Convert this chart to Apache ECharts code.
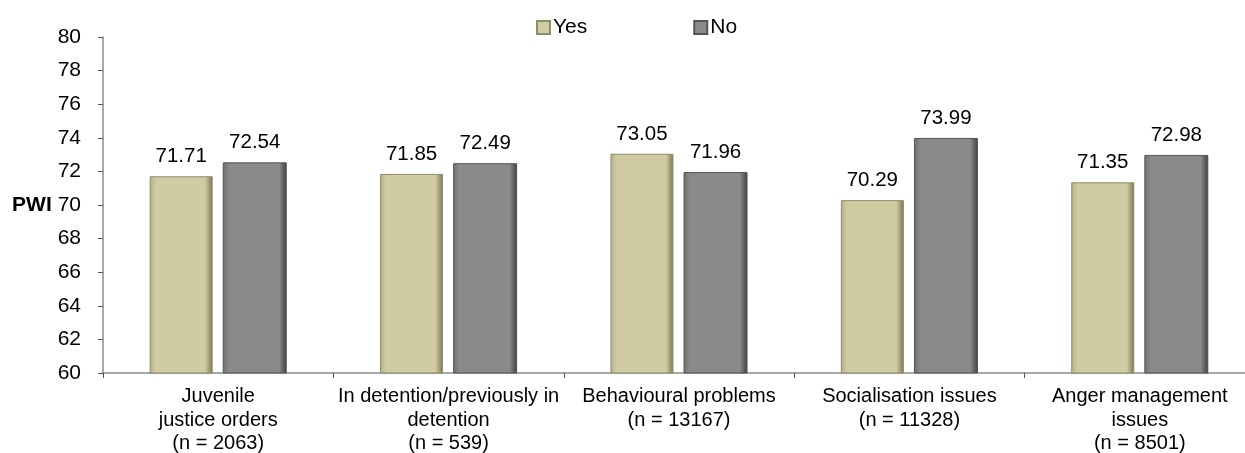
<!DOCTYPE html>
<html><head><meta charset="utf-8">
<script src="https://cdn.jsdelivr.net/npm/echarts@6/dist/echarts.min.js"></script>
<style>html,body{margin:0;padding:0;background:#fff}#c{width:1245px;height:453px}</style>
</head><body><div id="c"></div>
<script>
const categories = [
  'Juvenile\njustice orders\n(n = 2063)',
  'In detention/previously in\ndetention\n(n = 539)',
  'Behavioural problems\n(n = 13167)',
  'Socialisation issues\n(n = 11328)',
  'Anger management\nissues\n(n = 8501)'
];
const yesValues = [71.71, 71.85, 73.05, 70.29, 71.35];
const noValues = [72.54, 72.49, 71.96, 73.99, 72.98];
const seriesNames = ['Yes', 'No'];

const font = 'Liberation Sans, Arial, sans-serif';
function grad(edgeL, mid, edgeR) {
  return new echarts.graphic.LinearGradient(0, 0, 1, 0, [
    {offset: 0, color: edgeL}, {offset: 0.1, color: mid},
    {offset: 0.88, color: mid}, {offset: 1, color: edgeR}
  ]);
}
const yesColor = grad('#b4af88', '#d0cba3', '#7a7552');
const noColor = grad('#6f6f6f', '#8a8a8a', '#3e3e3e');

const chart = echarts.init(document.getElementById('c'));
chart.setOption({
  animation: false,
  legend: {
    top: 12, left: 531, itemGap: 106, itemWidth: 13, itemHeight: 13,
    icon: 'rect',
    textStyle: {fontFamily: font, fontSize: 21, color: '#000', padding: [0, 0, 0, -2]},
    data: seriesNames
  },
  grid: {left: 103, width: 1152, top: 37, height: 336, containLabel: false, outerBoundsMode: 'none'},
  xAxis: {
    type: 'category', data: categories,
    axisLine: {lineStyle: {color: '#8c8c8c', width: 1.5}},
    axisTick: {show: true, length: 5, lineStyle: {color: '#555'}},
    axisLabel: {interval: 0, fontFamily: font, fontSize: 20, color: '#000', lineHeight: 23.5, margin: 12}
  },
  yAxis: {
    type: 'value', min: 60, max: 80, interval: 2,
    name: 'PWI', nameLocation: 'middle', nameRotate: 0, nameGap: 41,
    nameTextStyle: {fontFamily: font, fontSize: 21, fontWeight: 'bold', color: '#000', align: 'right'},
    axisLine: {show: true, lineStyle: {color: '#8c8c8c', width: 1.5}},
    axisTick: {show: true, length: 5, inside: false, lineStyle: {color: '#555'}},
    splitLine: {show: false},
    axisLabel: {fontFamily: font, fontSize: 21, color: '#000', margin: 22}
  },
  series: [
    {
      name: 'Yes', type: 'bar', data: yesValues, barWidth: 63, barGap: '16%',
      itemStyle: {color: yesColor, borderColor: '#8f8a68', borderWidth: 1},
      label: {show: true, position: 'top', distance: 9, fontFamily: font, fontSize: 20.5, color: '#000', formatter: p => p.value.toFixed(2)}
    },
    {
      name: 'No', type: 'bar', data: noValues, barWidth: 64, barGap: '16%',
      itemStyle: {color: noColor, borderColor: '#555', borderWidth: 1},
      label: {show: true, position: 'top', distance: 9, fontFamily: font, fontSize: 20.5, color: '#000', formatter: p => p.value.toFixed(2)}
    }
  ]
});
</script></body></html>
